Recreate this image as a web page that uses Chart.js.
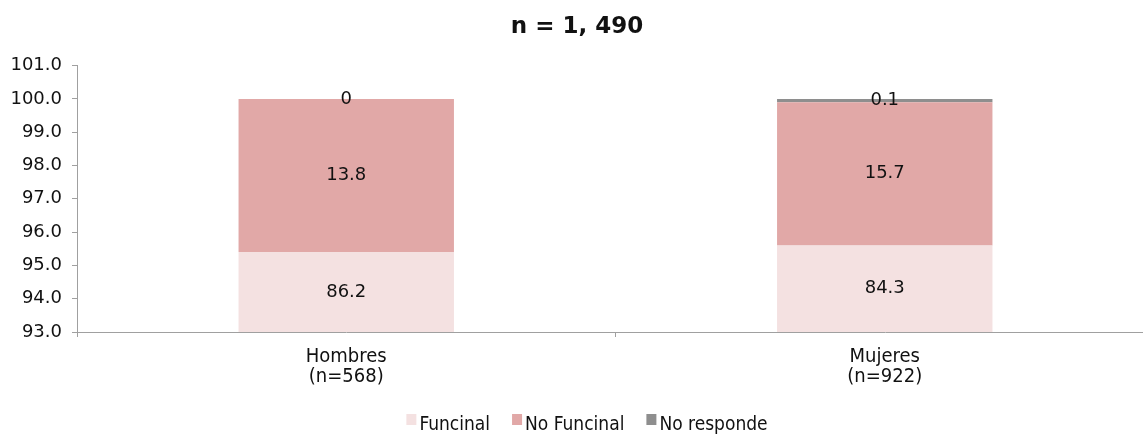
<!DOCTYPE html>
<html>
<head>
<meta charset="utf-8">
<script src="https://cdn.jsdelivr.net/npm/chart.js@4/dist/chart.umd.min.js"></script>
<style>
  html, body { margin: 0; padding: 0; background: #fff; overflow: hidden; width: 1143px; height: 434px; }
  #wrap { width: 1170px; height: 434px; }
</style>
</head>
<body>
<div id="wrap"><canvas id="c" width="1170" height="434"></canvas></div>
<script>
// Categories (two-line labels)
const categories = [["Hombres", "(n=568)"], ["Mujeres", "(n=922)"]];
const seriesNames = ["Funcinal", "No Funcinal", "No responde"];
// Segment extents as drawn on the axis (top of each stacked segment)
const funcinalBar = [95.4, 95.6];
const noFuncinalBar = [4.6, 4.3];
const noRespondeBar = [0, 0.1];
// Values printed on the segments
const funcinalLabels = ["86.2", "84.3"];
const noFuncinalLabels = ["13.8", "15.7"];
const noRespondeLabels = ["0", "0.1"];
// Y tick range
const yMin = 93, yMax = 101, yStep = 1;
const titleText = "n = 1, 490";

const colors = ["#f4e1e1", "#e1a8a7", "#8e8e8e"];
const labelSets = [funcinalLabels, noFuncinalLabels, noRespondeLabels];
const condFont = '"DejaVu Sans Condensed", "Noto Sans", sans-serif';

const segLabels = {
  id: 'segLabels',
  afterDatasetsDraw(chart) {
    const ctx = chart.ctx;
    const area = chart.chartArea;
    ctx.save();
    ctx.font = '18px "DejaVu Sans"';
    ctx.fillStyle = '#111';
    ctx.textAlign = 'center';
    ctx.textBaseline = 'middle';
    chart.data.datasets.forEach((ds, i) => {
      const meta = chart.getDatasetMeta(i);
      meta.data.forEach((bar, j) => {
        const top = Math.max(Math.min(bar.y, bar.base), area.top);
        const bot = Math.min(Math.max(bar.y, bar.base), area.bottom);
        ctx.fillText(labelSets[i][j], bar.x, (top + bot) / 2);
      });
    });
    ctx.restore();
  }
};

const customLegend = {
  id: 'customLegend',
  afterDraw(chart) {
    const ctx = chart.ctx;
    ctx.save();
    ctx.font = '19px ' + condFont;
    const boxW = 10, boxH = 11, gap = 3, itemGap = 22;
    const items = chart.data.datasets.map(d => ({ text: d.label, color: d.backgroundColor, w: ctx.measureText(d.label).width }));
    let total = 0;
    items.forEach((it, k) => { total += boxW + gap + it.w + (k < items.length - 1 ? itemGap : 0); });
    let x = 587 - total / 2;
    const baseY = 430, boxTop = 414;
    ctx.textBaseline = 'alphabetic';
    ctx.textAlign = 'left';
    items.forEach(it => {
      ctx.fillStyle = it.color;
      ctx.fillRect(x, boxTop, boxW, boxH);
      ctx.fillStyle = '#111';
      ctx.fillText(it.text, x + boxW + gap, baseY);
      x += boxW + gap + it.w + itemGap;
    });
    ctx.restore();
  }
};

new Chart(document.getElementById('c'), {
  type: 'bar',
  data: {
    labels: categories,
    datasets: [
      { label: seriesNames[0], data: funcinalBar, backgroundColor: colors[0] },
      { label: seriesNames[1], data: noFuncinalBar, backgroundColor: colors[1] },
      { label: seriesNames[2], data: noRespondeBar, backgroundColor: colors[2] }
    ]
  },
  options: {
    responsive: false,
    animation: false,
    devicePixelRatio: 1,
    layout: { padding: { left: 0, right: 16, top: 0, bottom: 41 } },
    datasets: { bar: { categoryPercentage: 0.4, barPercentage: 1.0, borderWidth: 0 } },
    scales: {
      x: {
        stacked: true,
        grid: { display: true, drawOnChartArea: false, offset: true, tickLength: 5, color: '#a0a0a0' },
        border: { display: true, color: '#a0a0a0', width: 1 },
        ticks: { color: '#111', font: { family: condFont, size: 20, lineHeight: 1.03 }, padding: 9, maxRotation: 0 },
        afterFit(scale) { scale.height = 61; }
      },
      y: {
        stacked: true,
        min: yMin, max: yMax,
        grid: { display: true, drawOnChartArea: false, tickLength: 5, color: '#a0a0a0' },
        border: { display: true, color: '#a0a0a0', width: 1 },
        ticks: {
          stepSize: yStep, color: '#111', padding: 10,
          font: { family: '"DejaVu Sans"', size: 18 },
          callback: v => Number(v).toFixed(1)
        },
        afterFit(scale) { scale.width = 77; }
      }
    },
    plugins: {
      title: {
        display: true, text: titleText, color: '#111',
        font: { family: '"DejaVu Sans"', size: 23, weight: 'bold' },
        padding: { top: 13, bottom: 25 }
      },
      legend: { display: false },
      tooltip: { enabled: false }
    }
  },
  plugins: [segLabels, customLegend]
});
</script>
</body>
</html>
